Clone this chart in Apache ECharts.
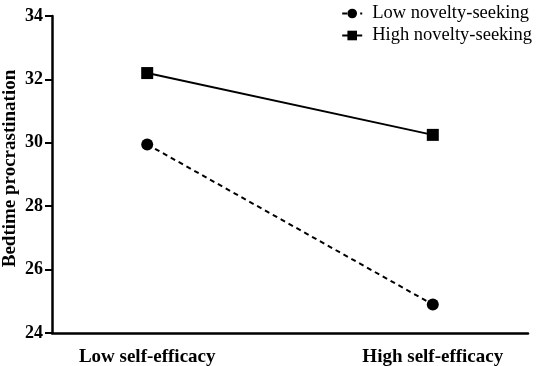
<!DOCTYPE html>
<html><head><meta charset="utf-8">
<script src="https://cdn.jsdelivr.net/npm/echarts@6/dist/echarts.min.js"></script>
<style>html,body{margin:0;padding:0;background:#fff}#c{width:536px;height:366px}</style>
</head><body><div id="c"></div>
<script>
const categories = ['Low self-efficacy', 'High self-efficacy'];
const seriesNames = ['Low novelty-seeking', 'High novelty-seeking'];
const lowNovelty = [29.95, 24.9];
const highNovelty = [32.2, 30.25];
const yTicks = [24, 26, 28, 30, 32, 34];

// categories are placed at x = index*3 on a value axis spanning -1..4
const catPos = categories.map((c, i) => i * 3);
const font = 'Liberation Serif';
const chart = echarts.init(document.getElementById('c'));
chart.setOption({
  animation: false,
  textStyle: {fontFamily: font},
  grid: {left: 52, right: 8, top: 16, bottom: 33, containLabel: false, outerBoundsMode: 'none'},
  legend: {
    right: -1, top: -1, orient: 'vertical', itemGap: 3,
    itemWidth: 20, itemHeight: 12,
    textStyle: {fontFamily: font, fontSize: 18.5, color: '#000', padding: [0, 0, 0, 5]},
    data: seriesNames
  },
  xAxis: {
    type: 'value', min: -1, max: 4, interval: 1,
    splitLine: {show: false},
    axisLine: {onZero: false, lineStyle: {color: '#000', width: 2.5}},
    axisTick: {show: false},
    axisLabel: {
      fontFamily: font, fontSize: 19, fontWeight: 'bold', color: '#000', margin: 15,
      formatter: v => { const i = catPos.indexOf(v); return i >= 0 ? categories[i] : ''; }
    }
  },
  yAxis: {
    type: 'value', min: yTicks[0], max: yTicks[yTicks.length - 1], interval: 2,
    name: 'Bedtime procrastination', nameLocation: 'middle', nameGap: 32, nameMoveOverlap: false,
    nameTextStyle: {fontFamily: font, fontSize: 19, fontWeight: 'bold', color: '#000', padding: [0, 0, 0, 12]},
    splitLine: {show: false},
    axisLine: {show: true, onZero: false, lineStyle: {color: '#000', width: 2.5}},
    axisTick: {show: true, length: 7, lineStyle: {color: '#000', width: 2}},
    axisLabel: {fontFamily: font, fontSize: 18, fontWeight: 'bold', color: '#000', margin: 9}
  },
  series: [
    {
      name: seriesNames[0], type: 'line', symbol: 'circle', symbolSize: 12,
      data: lowNovelty.map((v, i) => [catPos[i], v]),
      lineStyle: {color: '#000', width: 2, type: [5, 4]},
      itemStyle: {color: '#000'}
    },
    {
      name: seriesNames[1], type: 'line', symbol: 'rect', symbolSize: 12,
      data: highNovelty.map((v, i) => [catPos[i], v]),
      lineStyle: {color: '#000', width: 2},
      itemStyle: {color: '#000'}
    }
  ]
});
</script></body></html>
